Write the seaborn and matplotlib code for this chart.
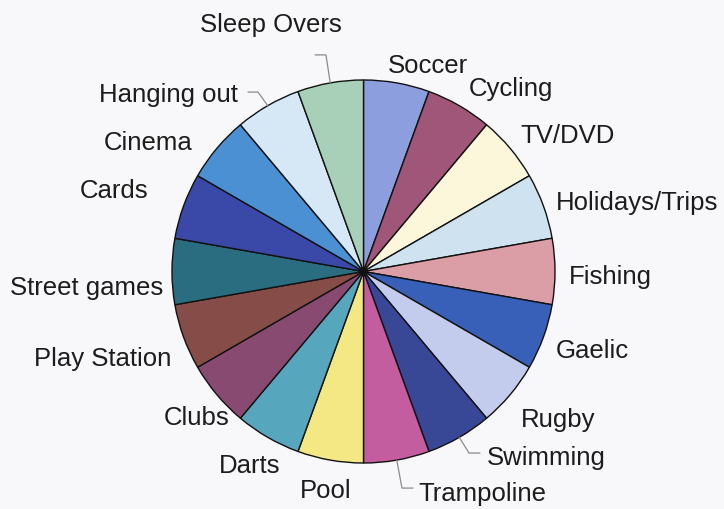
import numpy as np
import matplotlib
matplotlib.use("Agg")
import matplotlib.pyplot as plt
import seaborn as sns

# Favourite pastimes: one share per activity, listed clockwise from 12 o'clock
activities = [
    "Soccer", "Cycling", "TV/DVD", "Holidays/Trips", "Fishing", "Gaelic",
    "Rugby", "Swimming", "Trampoline", "Pool", "Darts", "Clubs",
    "Play Station", "Street games", "Cards", "Cinema", "Hanging out",
    "Sleep Overs",
]
counts = [1, 1, 1, 1, 1, 1, 1, 1, 1, 1, 1, 1, 1, 1, 1, 1, 1, 1]

slice_colors = [
    "#8c9ede", "#a05678", "#fcf6da", "#cee2f0", "#dc9ea6", "#3860b8",
    "#c4ccee", "#384896", "#c45ca0", "#f4e884", "#56a6be", "#884a70",
    "#864c48", "#2a6c80", "#3a48a8", "#4a90d2", "#d6e8f6", "#a8d0b8",
]

# Label placement (centre x, baseline y) in units of the pie radius
label_pos = {
    "Soccer": (0.337, 1.037), "Cycling": (0.768, 0.916),
    "TV/DVD": (1.065, 0.671), "Holidays/Trips": (1.431, 0.321),
    "Fishing": (1.287, -0.065), "Gaelic": (1.196, -0.452),
    "Rugby": (1.018, -0.812), "Swimming": (0.956, -1.010),
    "Trampoline": (0.621, -1.198), "Pool": (-0.196, -1.182),
    "Darts": (-0.593, -1.052), "Clubs": (-0.869, -0.802),
    "Play Station": (-1.363, -0.493), "Street games": (-1.446, -0.123),
    "Cards": (-1.303, 0.384), "Cinema": (-1.125, 0.634),
    "Hanging out": (-1.017, 0.885), "Sleep Overs": (-0.486, 1.251),
}
# Leader lines for labels pushed away from their slice: elbow and end points
leaders = {
    "Sleep Overs": ((-0.196, 1.131), (-0.253, 1.131)),
    "Hanging out": ((-0.551, 0.937), (-0.603, 0.937)),
    "Swimming": ((0.551, -0.948), (0.608, -0.948)),
    "Trampoline": ((0.201, -1.131), (0.258, -1.131)),
}

sns.set_theme(style="white")
plt.rcParams["font.family"] = ["Liberation Sans", "DejaVu Sans"]

W, H = 724, 509
R_PX = 191.5
CX, CY = 363.5, 271.5
fig = plt.figure(figsize=(W / 100, H / 100), dpi=100, facecolor="#f8f8fa")
ax = fig.add_axes([0, 0, 1, 1])
ax.set_facecolor("#f8f8fa")

palette = sns.color_palette(slice_colors)
wedges, _ = ax.pie(
    counts, colors=palette, startangle=90, counterclock=False, radius=1.0,
    wedgeprops=dict(edgecolor="#111111", linewidth=1.0),
)

for name, w in zip(activities, wedges):
    x, y = label_pos[name]
    ax.text(x, y, name, ha="center", va="baseline", fontsize=18.5,
            color="#1c1c1c")
    if name in leaders:
        mid = np.deg2rad((w.theta1 + w.theta2) / 2)
        (ex, ey), (tx, ty) = leaders[name]
        ax.plot([np.cos(mid), ex, tx], [np.sin(mid), ey, ty],
                color="#8a8a8a", linewidth=0.9, solid_joinstyle="miter")

ax.set_xlim(-CX / R_PX, (W - CX) / R_PX)
ax.set_ylim(-(H - CY) / R_PX, CY / R_PX)
ax.set_aspect("equal")
ax.axis("off")

fig.savefig("out.png", dpi=100, facecolor=fig.get_facecolor())
